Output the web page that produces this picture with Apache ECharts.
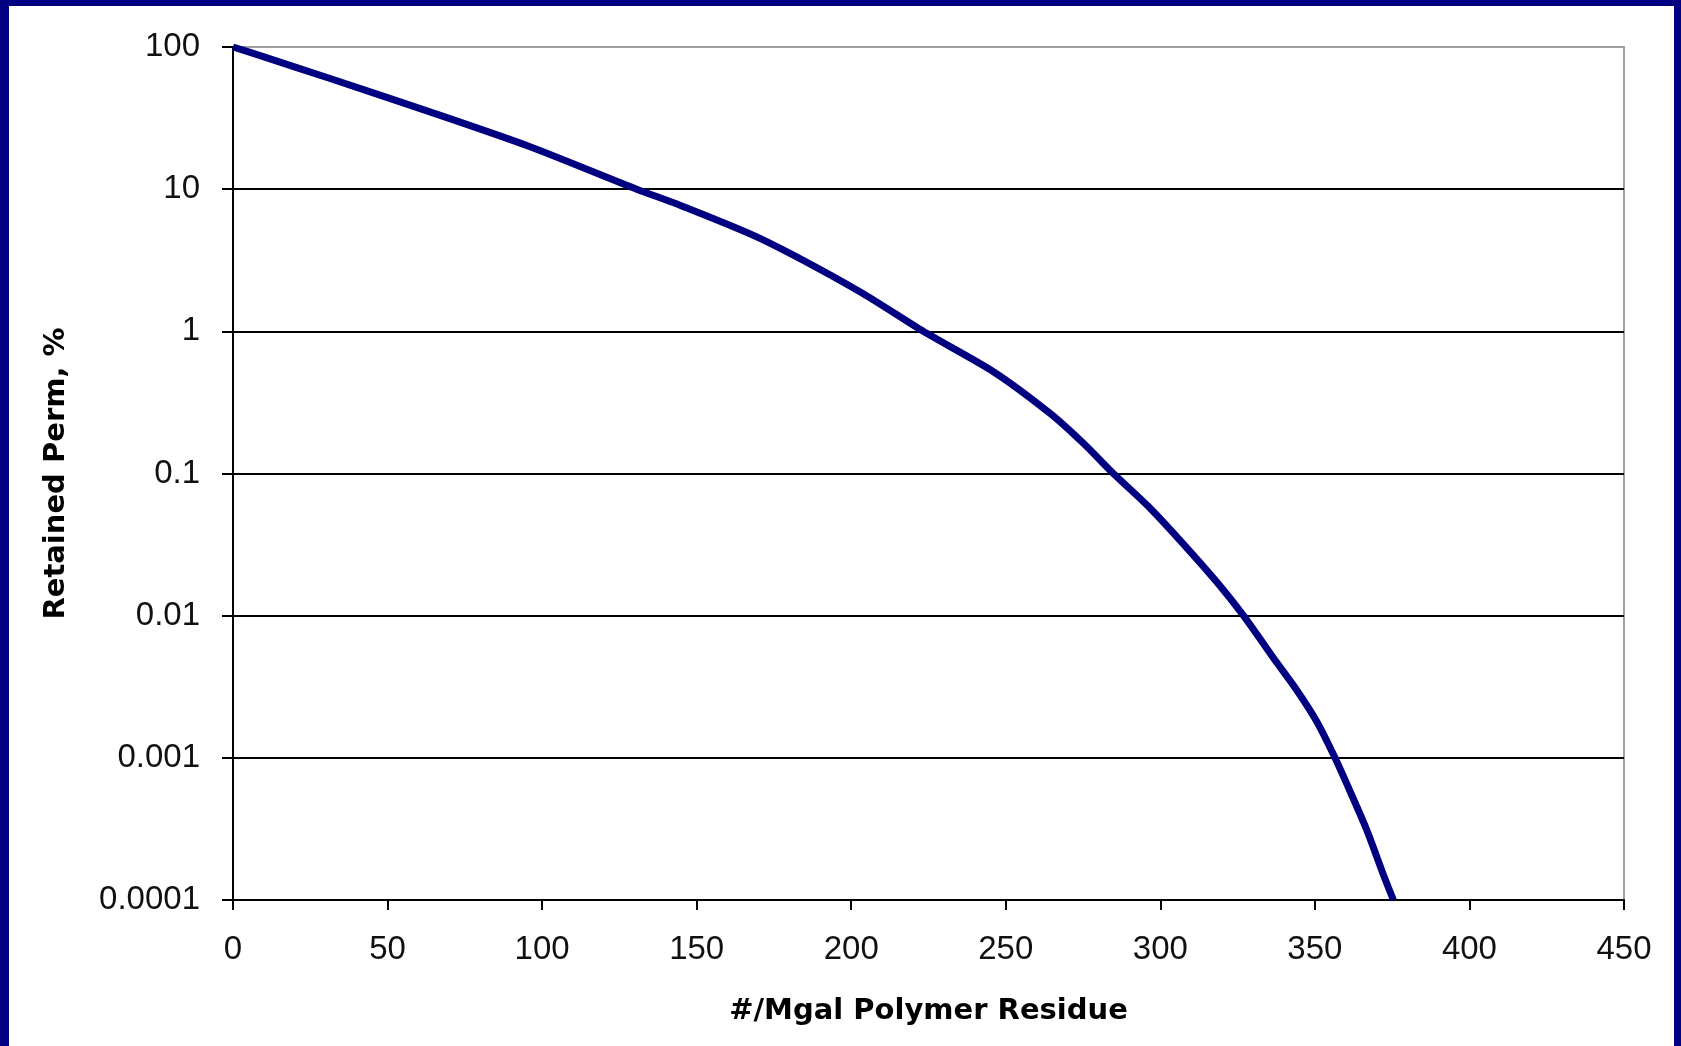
<!DOCTYPE html>
<html>
<head>
<meta charset="utf-8">
<script src="https://cdn.jsdelivr.net/npm/echarts@6/dist/echarts.min.js"></script>
<style>
  html, body { margin: 0; padding: 0; width: 1681px; height: 1046px; background: #000080; overflow: hidden; }
  #chart { position: absolute; left: 9px; top: 6px; width: 1665px; height: 1040px; background: #ffffff; }
</style>
</head>
<body>
<div id="chart"></div>
<script>
// Data
const residue = [0, 9.8, 31.4, 63.7, 96.1, 130.6, 144.6, 170.5, 202.8, 223.3, 246, 264.3, 275.1, 284.8, 296.7, 307.4, 318.2, 326.9, 337.6, 344.1, 350.6, 356.5, 361.4, 366.8, 372.2, 375.4];
const retainedPerm = [100, 85.5, 60, 35, 19.9, 10, 7.7, 4.5, 1.9, 1.0, 0.52, 0.265, 0.163, 0.1, 0.057, 0.032, 0.0173, 0.01, 0.0047, 0.003, 0.0018, 0.001, 0.00058, 0.00031, 0.00015, 0.0001];
const yTickLabels = ['0.0001', '0.001', '0.01', '0.1', '1', '10', '100'];
const xTickLabels = ['0', '50', '100', '150', '200', '250', '300', '350', '400', '450'];
const xTitle = '#/Mgal Polymer Residue';
const yTitle = 'Retained Perm, %';

const chart = echarts.init(document.getElementById('chart'), null, { renderer: 'canvas' });
const points = residue.map((x, i) => [x, retainedPerm[i]]);
const labelFont = '"Liberation Sans", Arial, sans-serif';
const titleFont = '"DejaVu Sans", sans-serif';

chart.setOption({
  animation: false,
  backgroundColor: '#ffffff',
  grid: {
    left: 224, top: 41, right: 50, bottom: 146,
    show: true, borderColor: '#a0a0a0', borderWidth: 2, backgroundColor: '#ffffff'
  },
  xAxis: {
    type: 'value', min: 0, max: 450, interval: 50,
    name: xTitle, nameLocation: 'middle', nameGap: 97,
    nameTextStyle: { fontFamily: titleFont, fontWeight: 'bold', fontSize: 29, color: '#000' },
    axisLine: { show: true, lineStyle: { color: '#000', width: 2 } },
    axisTick: { show: true, length: 10, lineStyle: { color: '#000', width: 2 } },
    axisLabel: {
      margin: 33, fontFamily: labelFont, fontSize: 33, color: '#111',
      formatter: v => xTickLabels[Math.round(v / 50)] ?? String(v)
    },
    splitLine: { show: false }
  },
  yAxis: {
    type: 'log', logBase: 10, min: 0.0001, max: 100, splitNumber: 6,
    name: yTitle, nameLocation: 'middle', nameGap: 162, nameRotate: 90,
    nameTextStyle: { fontFamily: titleFont, fontWeight: 'bold', fontSize: 29, color: '#000' },
    axisLine: { show: true, lineStyle: { color: '#000', width: 2 } },
    axisTick: { show: true, length: 11, lineStyle: { color: '#000', width: 2 } },
    axisLabel: {
      margin: 33, fontFamily: labelFont, fontSize: 33, color: '#111',
      formatter: v => yTickLabels[Math.round(Math.log10(v)) + 4] ?? String(v)
    },
    splitLine: { show: true, showMinLine: false, showMaxLine: false, lineStyle: { color: '#000', width: 2 } }
  },
  series: [{
    type: 'line',
    data: points,
    smooth: 0.25,
    showSymbol: false,
    clip: false,
    lineStyle: { color: '#000080', width: 7 },
    itemStyle: { color: '#000080' }
  }]
});
</script>
</body>
</html>
